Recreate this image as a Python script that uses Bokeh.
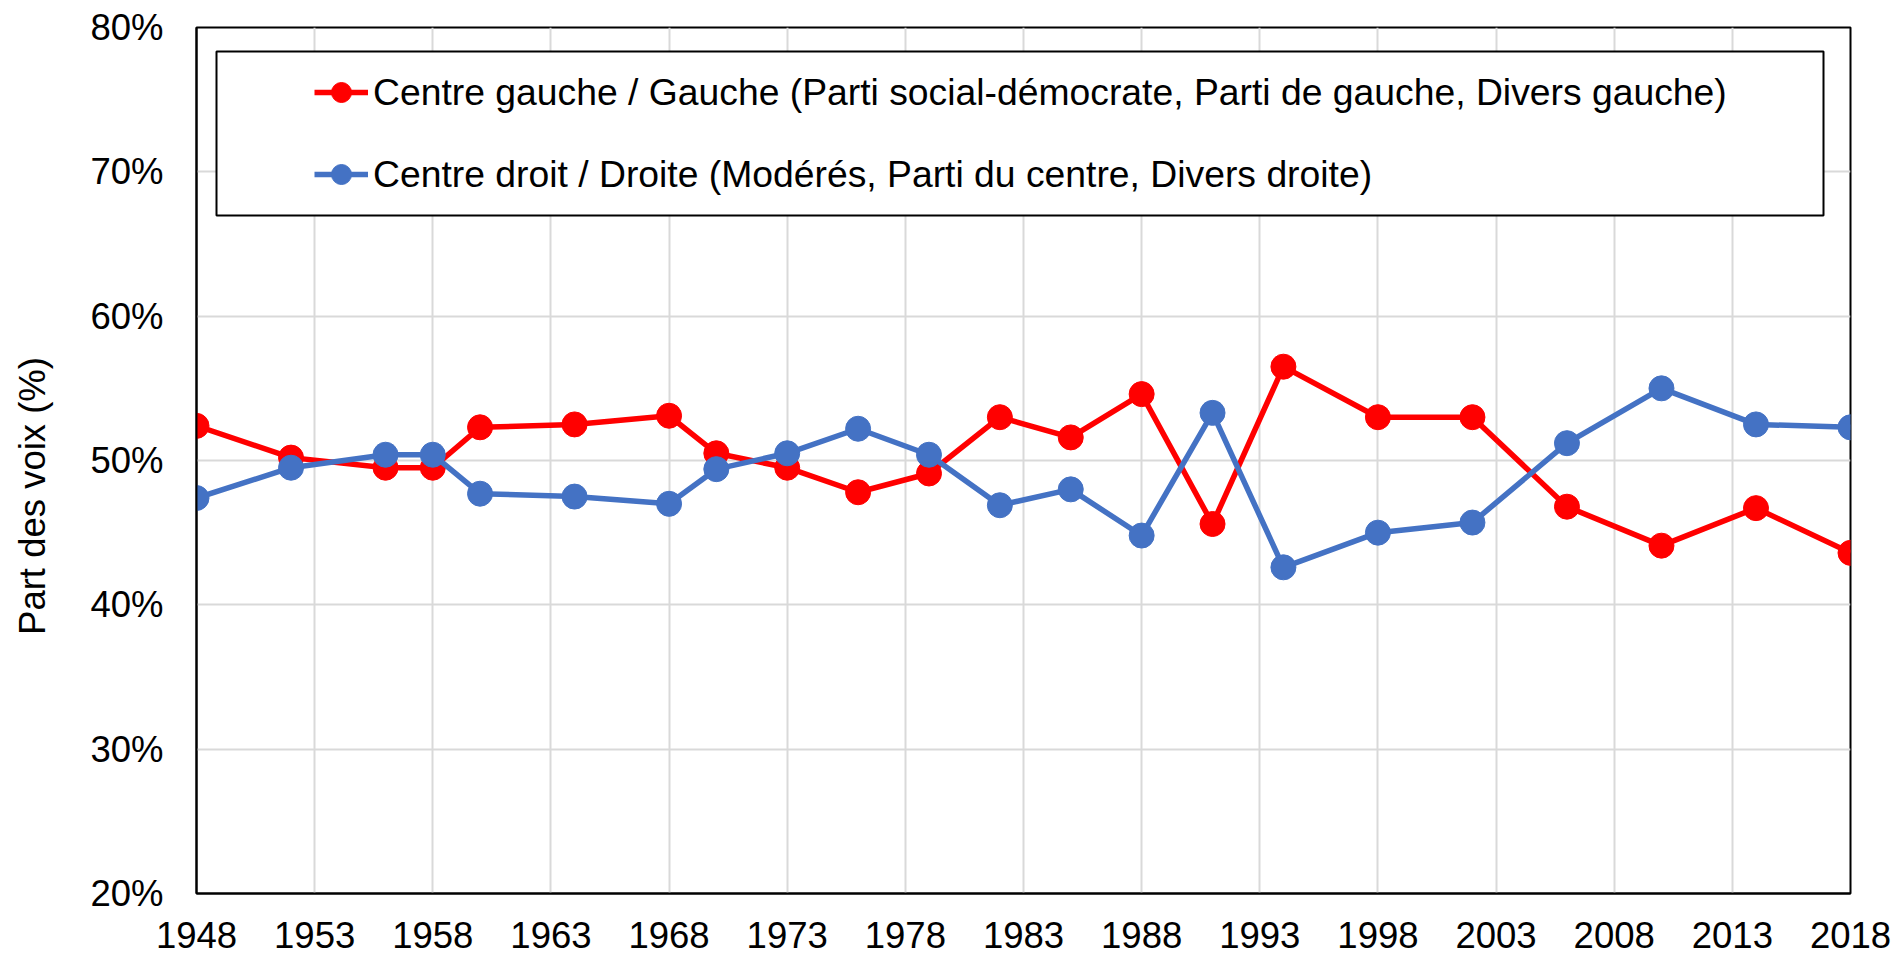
import math
from bokeh.plotting import figure
from bokeh.models import (FixedTicker, PrintfTickFormatter, Legend, LegendItem,
                          BoxAnnotation, Range1d)
from bokeh.embed import file_html
from bokeh.resources import INLINE

# ---------------- data ----------------
years = [1948, 1952, 1956, 1958, 1960, 1964, 1968, 1970, 1973, 1976, 1979,
         1982, 1985, 1988, 1991, 1994, 1998, 2002, 2006, 2010, 2014, 2018]
gauche = [52.4, 50.2, 49.5, 49.5, 52.3, 52.5, 53.1, 50.5, 49.5, 47.8, 49.1,
          53.0, 51.6, 54.6, 45.6, 56.5, 53.0, 53.0, 46.8, 44.1, 46.7, 43.6]
droite = [47.4, 49.5, 50.4, 50.4, 47.7, 47.5, 47.0, 49.4, 50.5, 52.2, 50.4,
          46.9, 48.0, 44.8, 53.3, 42.6, 45.0, 45.7, 51.2, 55.0, 52.5, 52.3]
x_ticks = [1948, 1953, 1958, 1963, 1968, 1973, 1978, 1983, 1988, 1993, 1998,
           2003, 2008, 2013, 2018]
y_ticks = [20, 30, 40, 50, 60, 70, 80]
label_gauche = "Centre gauche / Gauche (Parti social-démocrate, Parti de gauche, Divers gauche)"
label_droite = "Centre droit / Droite (Modérés, Parti du centre, Divers droite)"
y_title = "Part des voix (%)"

FONT = "Liberation Sans"
FS = "36.5px"
FS_LEG = "37.3px"
RED = "#FF0000"
BLUE = "#4472C4"

x0, x1 = 1948, 2018
y0, y1 = 20, 80
FRAME_W, FRAME_H = 1654, 866

p = figure(width=1896, height=955, output_backend="svg", toolbar_location=None,
           x_range=Range1d(x0, x1), y_range=Range1d(y0, y1),
           min_border_left=196, min_border_right=46, min_border_top=27,
           min_border_bottom=62)
p.background_fill_color = "white"
p.border_fill_color = "white"
p.outline_line_color = "black"
p.outline_line_width = 2

for ax in (p.xaxis[0], p.yaxis[0]):
    ax.axis_line_color = "black"
    ax.axis_line_width = 2
    ax.major_tick_in = 0
    ax.major_tick_out = 0
    ax.minor_tick_in = 0
    ax.minor_tick_out = 0
    ax.major_label_text_font = FONT
    ax.major_label_text_font_size = FS
    ax.major_label_text_color = "black"

p.xaxis.ticker = FixedTicker(ticks=x_ticks)
p.yaxis.ticker = FixedTicker(ticks=y_ticks)
p.yaxis.formatter = PrintfTickFormatter(format="%d%%")
p.xaxis.major_label_standoff = 28
p.yaxis.major_label_standoff = 33

# the title sits a little below the middle of the plot area, as in the original;
# trailing no-break spaces shift the visible text downwards
p.yaxis.axis_label = y_title + "\u00a0" * 7
p.yaxis.axis_label_text_font = FONT
p.yaxis.axis_label_text_font_size = FS
p.yaxis.axis_label_text_font_style = "normal"
p.yaxis.axis_label_text_color = "black"
p.yaxis.axis_label_standoff = 34

p.xgrid.ticker = FixedTicker(ticks=x_ticks)
p.ygrid.ticker = FixedTicker(ticks=y_ticks)
for g in (p.xgrid[0], p.ygrid[0]):
    g.grid_line_color = "#D9D9D9"
    g.grid_line_width = 2

# legend frame (box drawn behind the legend entries)
px_x = (x1 - x0) / FRAME_W
px_y = (y1 - y0) / FRAME_H
box = BoxAnnotation(left=x0 + 20 * px_x, right=x0 + 1627 * px_x,
                    top=y1 - 24 * px_y, bottom=y1 - 188 * px_y,
                    fill_color="white", fill_alpha=1.0,
                    line_color="black", line_alpha=1.0, line_width=2)
p.add_layout(box)

lg = p.line(years, gauche, line_color=RED, line_width=5.5)
sg = p.scatter(years, gauche, size=25, fill_color=RED, line_color=RED)
ld = p.line(years, droite, line_color=BLUE, line_width=5.5)
sd = p.scatter(years, droite, size=25, fill_color=BLUE, line_color=BLUE)

legend = Legend(items=[LegendItem(label=label_gauche, renderers=[lg, sg]),
                       LegendItem(label=label_droite, renderers=[ld, sd])],
                location=(102, 678), padding=16, spacing=32, margin=0,
                glyph_width=54, glyph_height=50, label_height=50,
                label_standoff=5, label_text_font=FONT,
                label_text_font_size=FS_LEG, label_text_color="black",
                border_line_alpha=0, background_fill_alpha=0)
p.add_layout(legend)

open("out.html", "w").write(file_html(p, INLINE))
